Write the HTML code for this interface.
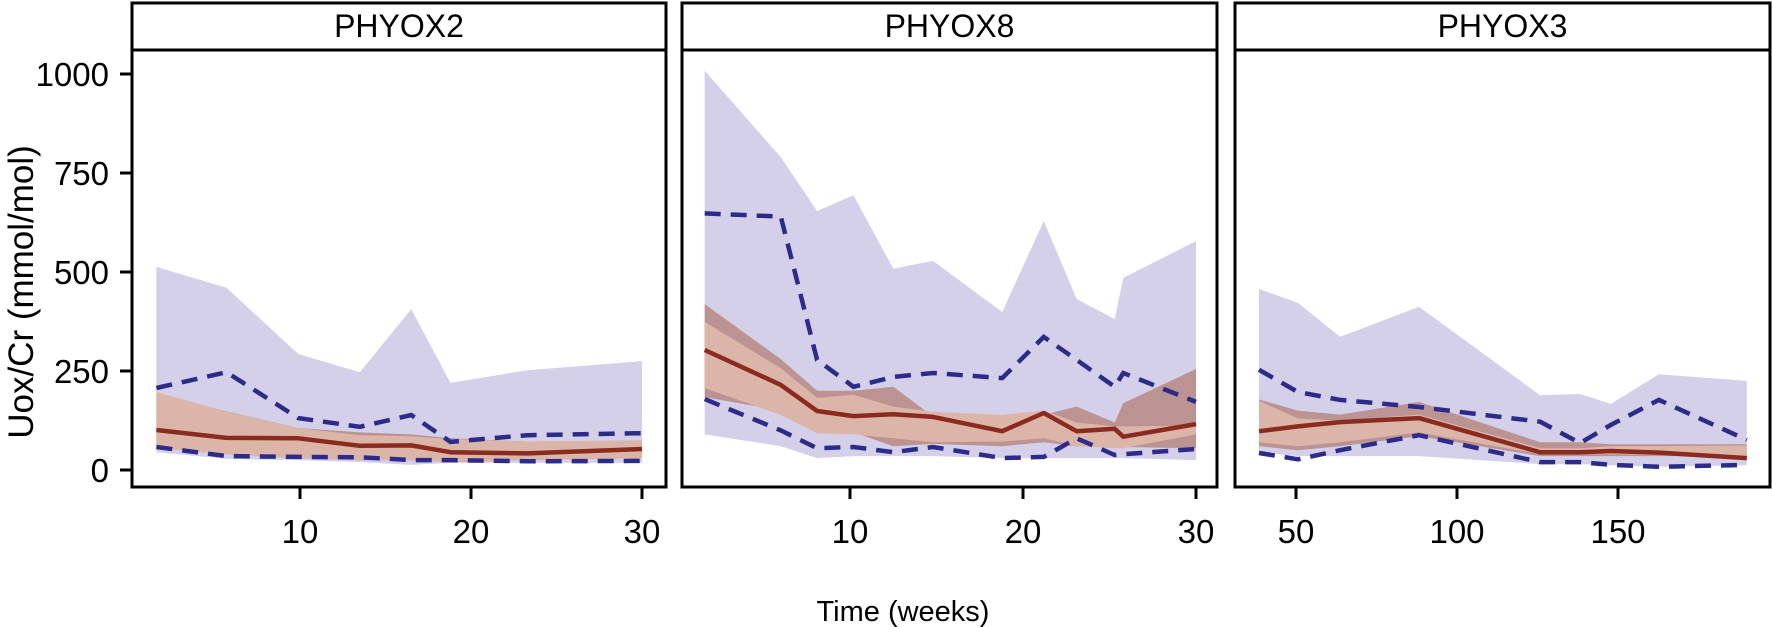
<!DOCTYPE html>
<html><head><meta charset="utf-8"><style>
html,body{margin:0;padding:0;background:#fff;}
svg{display:block;font-family:"Liberation Sans",Arial,sans-serif;}
</style></head><body>
<svg id="chart" width="1772" height="627" viewBox="0 0 1772 627" xmlns="http://www.w3.org/2000/svg">
<text x="0" y="0" transform="translate(33,292) rotate(-90)" text-anchor="middle" font-size="35">Uox/Cr (mmol/mol)</text>
<text x="903" y="621" text-anchor="middle" font-size="29">Time (weeks)</text>
</svg>
<script>
// ---- data ----
const panelNames = ["PHYOX2", "PHYOX8", "PHYOX3"];
const yTicks = [0, 250, 500, 750, 1000];
const xTicks1 = [10, 20, 30];
const xTicks2 = [10, 20, 30];
const xTicks3 = [50, 100, 150];

const time1 = [1.6, 5.7, 9.9, 13.5, 16.5, 18.8, 23.3, 30];
const purpleHi1 = [513, 460, 293, 247, 406, 220, 252, 275];
const purpleLo1 = [45, 28, 25, 20, 13, 18, 18, 18];
const dashHi1 = [207, 247, 131, 109, 139, 71, 88, 93];
const dashLo1 = [58, 35, 33, 32, 25, 25, 22, 23];
const darkHi1 = [192, 148, 106, 95, 90, 80, 72, 74];
const darkLo1 = [55, 40, 30, 25, 25, 20, 25, 30];
const salmonHi1 = [197, 147, 106, 88, 85, 78, 72, 75];
const salmonLo1 = [55, 40, 30, 25, 25, 20, 25, 30];
const median1 = [101, 81, 80, 61, 62, 45, 42, 53];

const time2 = [1.6, 6.0, 8.1, 10.2, 12.5, 14.8, 18.8, 21.2, 23.1, 25.3, 25.8, 30];
const purpleHi2 = [1008, 790, 654, 694, 508, 528, 399, 629, 432, 381, 485, 578];
const purpleLo2 = [90, 60, 30, 35, 35, 35, 30, 30, 30, 30, 30, 25];
const dashHi2 = [648, 640, 278, 210, 235, 245, 232, 336, 278, 210, 245, 172];
const dashLo2 = [179, 100, 55, 58, 45, 58, 30, 33, 80, 38, 40, 53];
const darkHi2 = [419, 280, 200, 200, 210, 135, 115, 140, 160, 120, 169, 255];
const darkLo2 = [184, 150, 110, 95, 60, 66, 60, 70, 60, 60, 58, 55];
const salmonHi2 = [374, 257, 182, 190, 160, 147, 139, 150, 120, 110, 110, 112];
const salmonLo2 = [207, 139, 93, 90, 80, 70, 72, 80, 60, 55, 55, 90];
const median2 = [303, 215, 149, 136, 141, 134, 98, 144, 98, 104, 84, 116];

const time3 = [38.5, 50.6, 63.7, 88.2, 125.8, 138.2, 147.8, 162.7, 190];
const purpleHi3 = [457, 422, 336, 412, 189, 192, 167, 242, 225];
const purpleLo3 = [45, 35, 35, 35, 15, 15, 12, 8, 12];
const dashHi3 = [253, 197, 177, 159, 122, 68, 114, 177, 76];
const dashLo3 = [43, 27, 50, 88, 20, 20, 13, 8, 13];
const darkHi3 = [178, 150, 140, 172, 70, 70, 65, 65, 65];
const darkLo3 = [60, 50, 60, 85, 35, 35, 35, 35, 35];
const salmonHi3 = [175, 130, 125, 140, 55, 55, 60, 60, 62];
const salmonLo3 = [70, 60, 70, 95, 40, 40, 40, 38, 35];
const median3 = [98, 110, 121, 131, 45, 45, 48, 44, 30];

// ---- layout ----
const NS = "http://www.w3.org/2000/svg";
const svg = document.getElementById("chart");
const stripTop = 3, stripBot = 51, plotBot = 487;
const yScale = v => 470 - v * 0.396;
const panels = [
  {left:132, right:666, x0:129, k:17.1, time:time1, ticks:xTicks1, ph:purpleHi1, pl:purpleLo1, dh:dashHi1, dl:dashLo1, kh:darkHi1, kl:darkLo1, sh:salmonHi1, sl:salmonLo1, med:median1},
  {left:682, right:1217, x0:677, k:17.3, time:time2, ticks:xTicks2, ph:purpleHi2, pl:purpleLo2, dh:dashHi2, dl:dashLo2, kh:darkHi2, kl:darkLo2, sh:salmonHi2, sl:salmonLo2, med:median2},
  {left:1235, right:1770, x0:1135, k:3.22, time:time3, ticks:xTicks3, ph:purpleHi3, pl:purpleLo3, dh:dashHi3, dl:dashLo3, kh:darkHi3, kl:darkLo3, sh:salmonHi3, sl:salmonLo3, med:median3}
];
function mk(tag, attrs){const e=document.createElementNS(NS,tag);for(const a in attrs)e.setAttribute(a,attrs[a]);return e;}
function ribbon(xs, hi, lo){
  let d = xs.map((x,i)=>(i?"L":"M")+x.toFixed(1)+","+yScale(hi[i]).toFixed(1)).join("");
  for(let i=xs.length-1;i>=0;i--) d += "L"+xs[i].toFixed(1)+","+yScale(lo[i]).toFixed(1);
  return d+"Z";
}
function line(xs, ys){return xs.map((x,i)=>(i?"L":"M")+x.toFixed(1)+","+yScale(ys[i]).toFixed(1)).join("");}

panels.forEach((p, pi) => {
  const xs = p.time.map(t => p.x0 + t * p.k);
  const g = mk("g", {});
  
  
  svg.appendChild(g);
  const clipId = "clip" + pi;
  const cp = mk("clipPath", {id: clipId});
  cp.appendChild(mk("rect", {x:p.left, y:stripBot, width:p.right-p.left, height:plotBot-stripBot}));
  g.appendChild(cp);
  const dg = mk("g", {"clip-path":"url(#"+clipId+")"});
  g.appendChild(dg);

  const pb = mk("path", {d:ribbon(xs,p.ph,p.pl), fill:"#d4d0e9"});
  
  
  dg.appendChild(pb);
  const db = mk("path", {d:ribbon(xs,p.kh,p.kl), fill:"#bc9393"});
  
  
  dg.appendChild(db);
  const sb = mk("path", {d:ribbon(xs,p.sh,p.sl), fill:"#dbb6a8"});
  
  
  dg.appendChild(sb);
  [p.dh, p.dl].forEach((arr, j) => {
    const dl = mk("path", {d:line(xs,arr), fill:"none", stroke:"#2e2a8a", "stroke-width":4.5, "stroke-dasharray":"16,10"});
    
    
    dg.appendChild(dl);
  });
  const ml = mk("path", {d:line(xs,p.med), fill:"none", stroke:"#8b2a1e", "stroke-width":4.5, "stroke-linejoin":"round"});
  
  
  dg.appendChild(ml);

  // frame & strip
  const fr = mk("rect", {x:p.left, y:stripTop, width:p.right-p.left, height:plotBot-stripTop, fill:"none", stroke:"#000", "stroke-width":3});
  
  
  g.appendChild(fr);
  const sl = mk("line", {x1:p.left, x2:p.right, y1:stripBot-1, y2:stripBot-1, stroke:"#000", "stroke-width":3});
  
  
  g.appendChild(sl);
  const st = mk("text", {x:(p.left+p.right)/2, y:37, "text-anchor":"middle", "font-size":32});
  st.textContent = panelNames[pi];
  
  
  g.appendChild(st);

  // x ticks
  p.ticks.forEach(t => {
    const x = p.x0 + t * p.k;
    const tl = mk("line", {x1:x, x2:x, y1:plotBot, y2:plotBot+12, stroke:"#000", "stroke-width":3});
    
    
    g.appendChild(tl);
    const tx = mk("text", {x:x, y:543, "text-anchor":"middle", "font-size":33});
    tx.textContent = t;
    
    
    g.appendChild(tx);
  });
});

// y ticks (left panel only)
yTicks.forEach(v => {
  const y = yScale(v);
  const tl = mk("line", {x1:120, x2:132, y1:y, y2:y, stroke:"#000", "stroke-width":3});
  
  
  svg.appendChild(tl);
  const tx = mk("text", {x:109, y:y+12, "text-anchor":"end", "font-size":33});
  tx.textContent = v;
  
  
  svg.appendChild(tx);
});
</script>
</body></html>
